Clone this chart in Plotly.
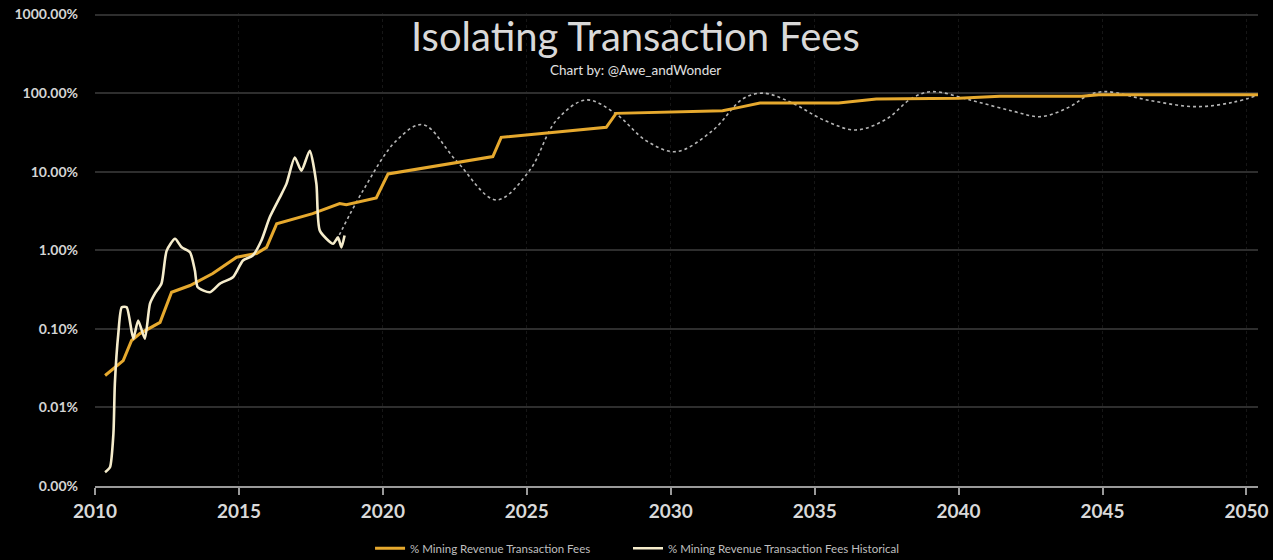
import plotly.graph_objects as go

# Model: % mining revenue from transaction fees (percent values)
model_year = [2010.35, 2010.98, 2011.27, 2011.56, 2012.26, 2012.66, 2013.30, 2014.09, 2014.92,
              2015.61, 2015.96, 2016.31, 2017.56, 2018.50, 2018.73, 2019.77, 2020.18, 2023.82,
              2024.11, 2027.76, 2028.10, 2031.80, 2032.38, 2033.10, 2035.83, 2037.14, 2040.00,
              2041.43, 2044.28, 2044.87, 2050.42]
model_pct = [0.0255, 0.0395, 0.071, 0.087, 0.121, 0.292, 0.356, 0.506, 0.815,
             0.91, 1.09, 2.17, 2.93, 3.93, 3.8, 4.64, 9.38, 15.6,
             27.4, 36.7, 55.3, 59.9, 65.9, 75.0, 75.0, 84.4, 85.9,
             91.0, 91.0, 95.7, 95.7]

# Historical
hist_year = [2010.35, 2010.52, 2010.64, 2010.69, 2010.81, 2010.93, 2011.10, 2011.33, 2011.50,
             2011.73, 2011.91, 2012.08, 2012.31, 2012.49, 2012.78, 2013.01, 2013.30, 2013.47,
             2013.57, 2013.99, 2014.34, 2014.79, 2015.14, 2015.48, 2015.78, 2016.07, 2016.42,
             2016.65, 2016.94, 2017.17, 2017.46, 2017.69, 2017.81, 2018.27, 2018.44, 2018.56,
             2018.67]
hist_pct = [0.0015, 0.00173, 0.00466, 0.0201, 0.087, 0.188, 0.188, 0.075, 0.128,
            0.075, 0.21, 0.281, 0.377, 0.99, 1.40, 1.09, 0.944, 0.552,
            0.338, 0.292, 0.377, 0.454, 0.74, 0.857, 1.33, 2.63, 4.72,
            7.0, 15.2, 10.3, 18.5, 7.06, 1.78, 1.21, 1.46, 1.09,
            1.54]

# Projection (dotted)
proj_year = [2018.39, 2019.31, 2020.47, 2021.39, 2022.55, 2023.94, 2025.09, 2026.02, 2027.06,
             2028.10, 2029.14, 2030.18, 2031.45, 2032.50, 2033.21, 2034.17, 2035.36, 2036.43,
             2037.50, 2038.34, 2039.05, 2040.48, 2041.90, 2042.86, 2043.82, 2044.53, 2045.12,
             2046.67, 2048.22, 2049.53, 2050.45]
proj_pct = [1.33, 5.75, 24.9, 39.7, 13.8, 4.38, 10.3, 44.7, 81.9,
            54.3, 24.9, 18.0, 33.3, 84.4, 100.0, 76.4, 44.7, 34.0,
            47.0, 84.4, 104.5, 80.3, 58.7, 50.2, 65.9, 95.0, 104.5,
            80.3, 67.3, 76.4, 95.6]

x_ticks = [2010, 2015, 2020, 2025, 2030, 2035, 2040, 2045, 2050]

FONT = "Lato, 'Open Sans', sans-serif"

fig = go.Figure()
fig.add_trace(go.Scatter(
    x=proj_year, y=[p / 100 for p in proj_pct], mode="lines", showlegend=False,
    line=dict(color="#b5b5b5", width=1.6, dash="dot", shape="spline", smoothing=1.0),
    hoverinfo="skip"))
fig.add_trace(go.Scatter(
    x=model_year, y=[p / 100 for p in model_pct], mode="lines",
    name="% Mining Revenue Transaction Fees", legend="legend",
    line=dict(color="#E6A92E", width=3)))
fig.add_trace(go.Scatter(
    x=hist_year, y=[p / 100 for p in hist_pct], mode="lines",
    name="% Mining Revenue Transaction Fees Historical", legend="legend2",
    line=dict(color="#F5ECCB", width=2.6, shape="spline", smoothing=0.6)))

leg_common = dict(orientation="h", y=-0.1316, yanchor="middle", xanchor="left",
                  font=dict(size=11.5, color="#bfbfbf"), bgcolor="rgba(0,0,0,0)",
                  itemwidth=30)

fig.update_layout(
    width=1273, height=560,
    paper_bgcolor="#000000", plot_bgcolor="#000000",
    margin=dict(l=95, r=15, t=13.4, b=74, autoexpand=False),
    font=dict(family=FONT, color="#d9d9d9"),
    legend=dict(x=0.2365, **leg_common),
    legend2=dict(x=0.4583, **leg_common),
    annotations=[
        dict(text="Isolating Transaction Fees", x=0.4647, xref="paper", y=0.951, yref="paper",
             xanchor="center", yanchor="middle", showarrow=False,
             font=dict(size=40, color="#d9d9d9", family=FONT)),
        dict(text="Chart by: @Awe_andWonder", x=0.4647, xref="paper", y=0.879, yref="paper",
             xanchor="center", yanchor="middle", showarrow=False,
             font=dict(size=13.5, color="#e0e0e0", family=FONT)),
    ],
)

fig.update_xaxes(
    range=[2010, 2050.4], tickvals=x_ticks, ticktext=[str(v) for v in x_ticks],
    showgrid=True, gridcolor="#161616", griddash="dot", gridwidth=1,
    showline=True, linecolor="#9a9a9a", linewidth=1.5,
    ticks="outside", ticklen=7, tickcolor="#9a9a9a", tickwidth=1.5,
    tickfont=dict(size=19, color="#d9d9d9", family=FONT, weight="bold"),
    zeroline=False, automargin=False)

fig.update_yaxes(
    type="log", range=[-5, 1.02], dtick=1, tickformat=".2%",
    showgrid=True, gridcolor="#2e2e2e", gridwidth=1.6,
    showline=False, zeroline=False, ticks="", ticklabelstandoff=16,
    ticklabeloverflow="allow",
    tickfont=dict(size=14, color="#d4d4d4", family=FONT, weight="bold"),
    automargin=False)

fig.write_html("out.html", config={"displayModeBar": False},
               post_script="document.body.style.margin='0';document.body.style.background='#000';")
